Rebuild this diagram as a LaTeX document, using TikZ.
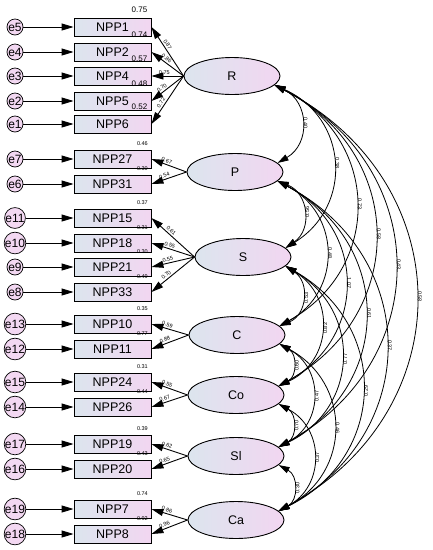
\documentclass[tikz,border=0pt]{standalone}
\usepackage{fontspec}
\setmainfont{Liberation Sans}
\usetikzlibrary{arrows.meta,positioning,calc,shapes.geometric}
\definecolor{boxl}{HTML}{DCE5EE}
\definecolor{boxr}{HTML}{F2D6F1}
\definecolor{errfill}{HTML}{F3D8F2}
\tikzset{
 item/.style={draw,line width=.9pt,minimum width=77pt,minimum height=18pt,inner sep=0pt,
  left color=boxl,right color=boxr,font=\fontsize{12.5}{12.5}\selectfont},
 factor/.style={ellipse,draw,line width=.9pt,minimum width=96pt,minimum height=37pt,inner sep=0pt,
  left color=boxl,right color=boxr,font=\fontsize{12.5}{12.5}\selectfont},
 err/.style={circle,draw,line width=.7pt,minimum size=16pt,inner sep=0pt,fill=errfill,
  font=\fontsize{12}{12}\selectfont},
 tiny/.style={font=\fontsize{5.5}{5.5}\selectfont,inner sep=.5pt},
 big/.style={font=\fontsize{8}{8}\selectfont,inner sep=1pt},
 arr/.style={line width=.9pt,-{Triangle[length=12pt,width=7pt]}},
 cov/.style={line width=.8pt,{Triangle[length=11pt,width=6.5pt]}-{Triangle[length=11pt,width=6.5pt]},
  bend left=62,looseness=1.26}
}
\begin{document}
\begin{tikzpicture}[x=1pt,y=-1pt]
\useasboundingbox (0,0) rectangle (432,550);
\foreach \n/\e/\y in {1/5/27,2/4/52,4/3/76,5/2/101,6/1/124,27/7/159,31/6/184,
 15/11/218,18/10/243,21/9/267,33/8/292,10/13/324,11/12/349,24/15/382,26/14/407,
 19/17/444,20/16/469,7/19/509,8/18/534}{
 \node[item] (npp\n) at (112.5,\y) {NPP\n};
 \node[err] (e\e) at (15,\y) {e\e};
 \draw[arr] (e\e) -- (npp\n);
}
\foreach \f/\x/\y in {R/232/76,P/235/172,S/243/257,C/237/335,Co/236/395,Sl/236/456,Ca/236/520}
 \node[factor] (\f) at (\x,\y) {\f};
\foreach \n/\v in {1/0.75,2/0.74,4/0.57,5/0.48,6/0.52}
 \node[big,anchor=south east] at ([xshift=-3pt,yshift=4pt]npp\n.north east) {\v};
\foreach \n/\v in {27/0.46,31/0.30,15/0.37,18/0.31,21/0.30,33/0.49,10/0.35,11/0.77,
 24/0.31,26/0.44,19/0.39,20/0.43,7/0.74,8/0.92}
 \node[tiny,anchor=south east] at ([xshift=-3pt,yshift=3pt]npp\n.north east) {\v};
\foreach \f/\n/\v in {R/1/0.87,R/2/0.86,R/4/0.75,R/5/0.70,R/6/0.72,P/27/0.67,P/31/0.54,
 S/15/0.61,S/18/0.55,S/21/0.55,S/33/0.70,C/10/0.59,C/11/0.88,Co/24/0.55,Co/26/0.67,
 Sl/19/0.62,Sl/20/0.65,Ca/7/0.86,Ca/8/0.96}
 \draw[arr] (\f.west) -- node[tiny,sloped,above=1pt,pos=.6] {\v} (npp\n.east);
\foreach \a/\b/\v/\r in {R/P/0.40/-90,R/S/0.38/-90,R/C/0.73/-90,R/Co/0.58/-90,R/Sl/0.43/-90,
 R/Ca/0.58/-90,P/S/0.56/90,P/C/0.48/-90,P/Co/1.07/-90,P/Sl/0.61/-90,P/Ca/0.37/-90,
 S/C/0.53/90,S/Co/0.82/90,S/Sl/0.77/90,S/Ca/0.29/90,C/Co/0.60/90,C/Sl/0.47/90,
 C/Ca/0.46/-90,Co/Sl/0.70/90,Co/Ca/0.37/90,Sl/Ca/0.30/90}
 \draw[cov] (\a.-12) to node[tiny,midway,xshift=4pt,rotate=\r] {\v} (\b.12);
\end{tikzpicture}
\end{document}
